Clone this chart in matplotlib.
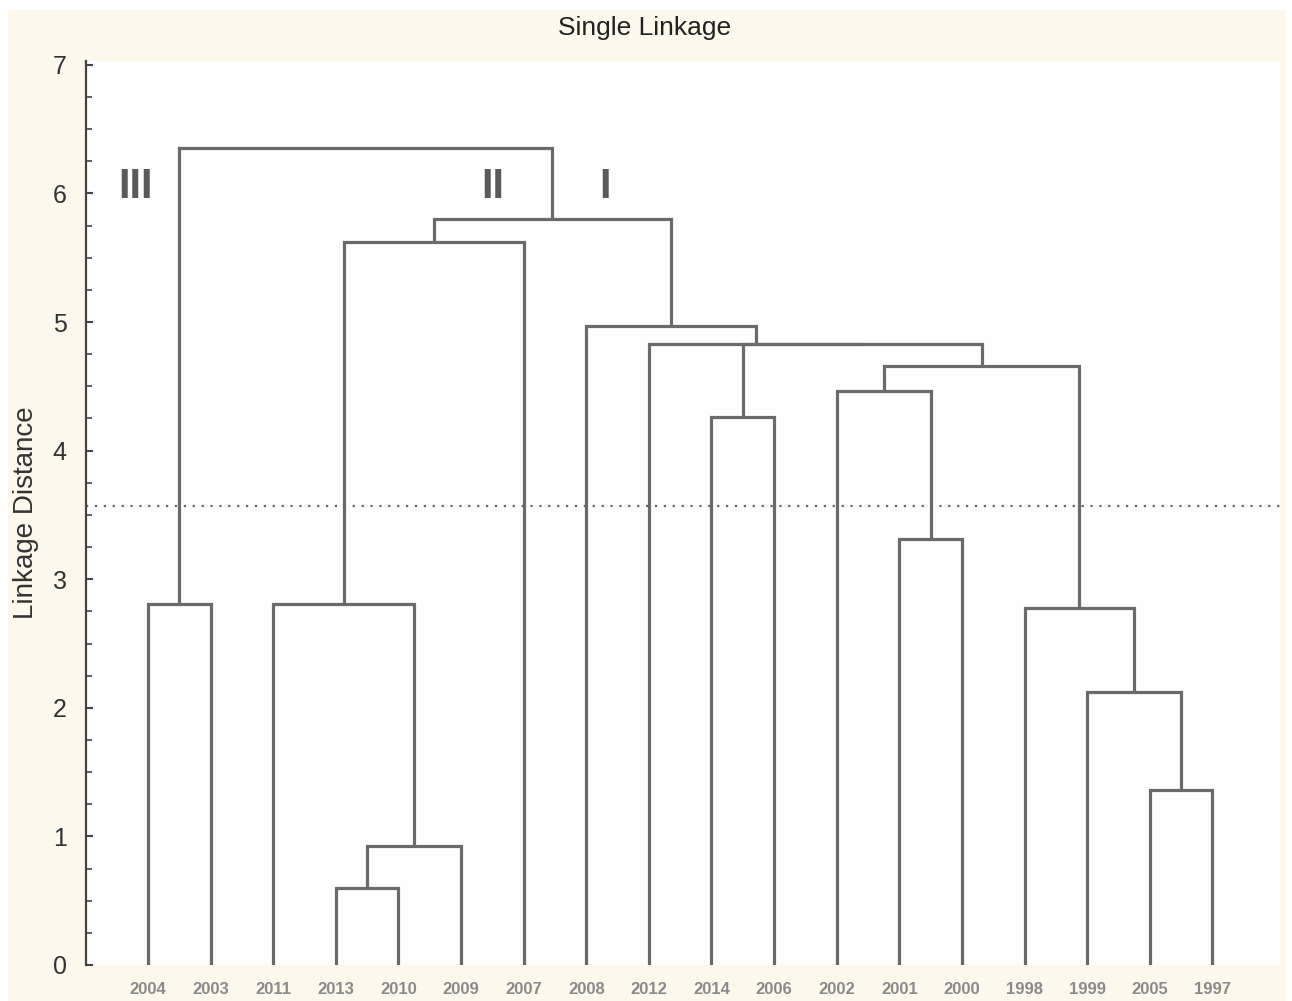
import matplotlib.pyplot as plt
from matplotlib.patches import Rectangle
from matplotlib.ticker import MultipleLocator

plt.rcParams['font.family'] = ['Liberation Sans', 'DejaVu Sans']

# leaves in dendrogram order
labels = ['2004', '2003', '2011', '2013', '2010', '2009', '2007', '2008', '2012',
          '2014', '2006', '2002', '2001', '2000', '1998', '1999', '2005', '1997']

# merge steps: ids < 18 are leaves, id 18+k is the cluster made in step k
merge_left = [3, 18, 16, 15, 14, 0, 2, 12, 9, 11, 27, 26, 8, 7, 24, 32, 23]
merge_right = [4, 5, 17, 20, 21, 1, 19, 13, 10, 25, 22, 28, 29, 30, 6, 31, 33]
merge_height = [0.60, 0.925, 1.36, 2.12, 2.78, 2.81, 2.81, 3.31, 4.26, 4.46,
                4.66, 4.83, 4.83, 4.97, 5.62, 5.80, 6.35]

cut_level = 3.57
groups = ['III', 'II', 'I']
group_x = [-0.2, 5.5, 7.3]
group_y = 6.05

line_col = '#6a6a6a'

fig = plt.figure(figsize=(12.92, 10.01), dpi=100, facecolor='white')
fig.patches.append(Rectangle((8 / 1292, 0), 1278 / 1292, 991 / 1001,
                             transform=fig.transFigure, facecolor='#fdf8ec',
                             edgecolor='none', zorder=-10))
ax = fig.add_axes([86 / 1292, 1 - 965 / 1001, 1194 / 1292, 904 / 1001])
ax.set_facecolor('#fefefe')

xpos = {i: float(i) for i in range(len(labels))}
ypos = {i: 0.0 for i in range(len(labels))}
for k, (a, b, h) in enumerate(zip(merge_left, merge_right, merge_height)):
    xa, xb = xpos[a], xpos[b]
    ax.plot([xa, xa, xb, xb], [ypos[a], h, h, ypos[b]], color=line_col,
            lw=2.3, solid_joinstyle='miter', solid_capstyle='butt')
    xpos[18 + k] = (xa + xb) / 2
    ypos[18 + k] = h

ax.axhline(cut_level, color='#666666', lw=1.6, linestyle=(0, (1, 3)))

for g, gx in zip(groups, group_x):
    ax.text(gx, group_y, g, fontsize=30, fontweight='bold', color='#5a5a5a',
            ha='center', va='center')

ax.set_xlim(-0.99, 18.08)
ax.set_ylim(0, 7.03)
ax.set_xticks(range(len(labels)))
ax.set_xticklabels(labels, fontsize=12, fontweight='bold', color='#8a8a8a')
ax.tick_params(axis='x', length=0, pad=12)
ax.yaxis.set_major_locator(MultipleLocator(1))
ax.yaxis.set_minor_locator(MultipleLocator(0.25))
ax.tick_params(axis='y', which='major', direction='in', length=5, width=1.5,
               color='#444444', labelsize=18, labelcolor='#333333', pad=14)
ax.tick_params(axis='y', which='minor', direction='in', length=4, width=1.2,
               color='#444444')
for s in ['top', 'right', 'bottom']:
    ax.spines[s].set_visible(False)
ax.spines['left'].set_color('#444444')
ax.spines['left'].set_linewidth(1.6)

ax.set_ylabel('Linkage Distance', fontsize=20, color='#333333', labelpad=10)
fig.text(645 / 1292, 1 - 28 / 1001, 'Single Linkage', fontsize=19,
         color='#222222', ha='center', va='center')

fig.savefig('out.png', dpi=100, facecolor=fig.get_facecolor())
